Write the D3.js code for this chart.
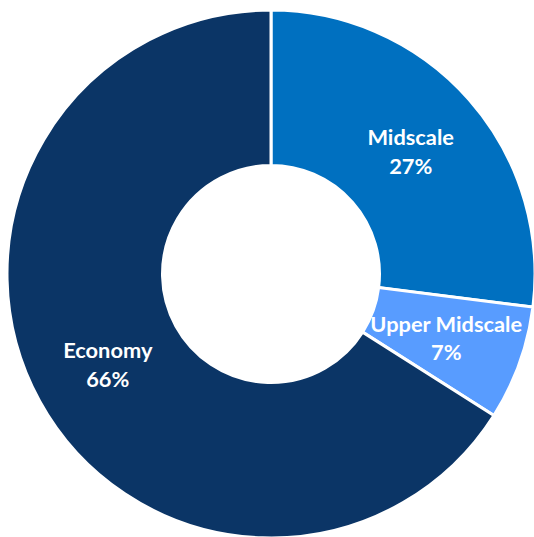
<!DOCTYPE html>
<html>
<head>
<meta charset="utf-8">
<script src="https://cdn.jsdelivr.net/npm/d3@7"></script>
<style>
  html, body { margin: 0; padding: 0; background: #fff; }
  svg { display: block; }
</style>
</head>
<body>
<svg id="chart" width="534" height="537"></svg>
<script>
// Hotel segment shares (percent)
const segments = ["Midscale", "Upper Midscale", "Economy"];
const shares = [27, 7, 66];
const colors = ["#0070C0", "#589CFF", "#0B3566"];

const svg = d3.select("#chart");
const cx = 271, cy = 274;
const outerR = 264, innerR = 108.5;

const g = svg.append("g").attr("transform", `translate(${cx},${cy})`);

const data = segments.map((name, i) => ({ name, value: shares[i], color: colors[i] }));

const pie = d3.pie().value(d => d.value).sort(null);
const arc = d3.arc().innerRadius(innerR).outerRadius(outerR);

const arcs = pie(data);

g.selectAll("path.slice")
  .data(arcs)
  .join("path")
  .attr("class", "slice")
  .attr("d", arc)
  .attr("fill", d => d.data.color)
  .attr("stroke", "#fff")
  .attr("stroke-width", 3)
  .attr("stroke-linejoin", "miter");

const fontSize = 21.8;
const labels = g.selectAll("text.label")
  .data(arcs)
  .join("text")
  .attr("class", "label")
  .attr("transform", d => `translate(${arc.centroid(d)})`)
  .attr("text-anchor", "middle")
  .attr("fill", "#fff")
  .attr("font-family", "Lato, 'Open Sans', sans-serif")
  .attr("font-weight", "bold")
  .attr("font-size", fontSize);

labels.append("tspan")
  .attr("x", 0)
  .attr("dy", -5.5)
  .text(d => d.data.name);

labels.append("tspan")
  .attr("x", 0)
  .attr("dy", 28.5)
  .text(d => d.data.value + "%");
</script>
</body>
</html>
